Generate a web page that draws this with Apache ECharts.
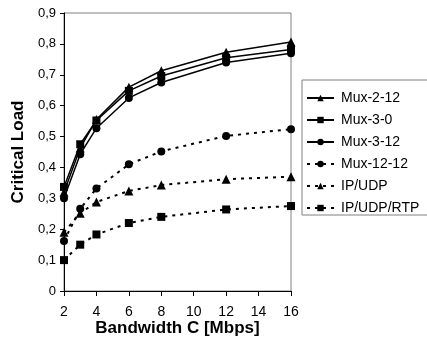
<!DOCTYPE html>
<html>
<head>
<meta charset="utf-8">
<script src="https://cdn.jsdelivr.net/npm/echarts@6/dist/echarts.min.js"></script>
<style>
  html, body { margin: 0; padding: 0; background: #fff; }
  #chart { width: 427px; height: 339px; }
</style>
</head>
<body>
<div id="chart"></div>
<script>
const bandwidth = [2, 3, 4, 6, 8, 12, 16];

const mux2_12 = [0.32, 0.463, 0.555, 0.66, 0.713, 0.773, 0.806];
const mux3_0 = [0.337, 0.475, 0.552, 0.648, 0.696, 0.755, 0.782];
const mux3_12 = [0.30, 0.443, 0.527, 0.625, 0.675, 0.74, 0.77];
const mux12_12 = [0.162, 0.266, 0.332, 0.41, 0.452, 0.502, 0.524];
const ipUdp = [0.19, 0.252, 0.288, 0.324, 0.343, 0.362, 0.37];
const ipUdpRtp = [0.10, 0.15, 0.183, 0.22, 0.24, 0.264, 0.275];

const seriesDefs = [
  { name: "Mux-2-12", data: mux2_12, symbol: "triangle", dotted: false },
  { name: "Mux-3-0", data: mux3_0, symbol: "rect", dotted: false },
  { name: "Mux-3-12", data: mux3_12, symbol: "circle", dotted: false },
  { name: "Mux-12-12", data: mux12_12, symbol: "circle", dotted: true },
  { name: "IP/UDP", data: ipUdp, symbol: "triangle", dotted: true },
  { name: "IP/UDP/RTP", data: ipUdpRtp, symbol: "rect", dotted: true }
];

const chart = echarts.init(document.getElementById("chart"));
const font = "Arial, 'Liberation Sans', sans-serif";

chart.setOption({
  animation: false,
  grid: {
    left: 64, right: 136, top: 13, bottom: 48,
    outerBoundsMode: "none",
    containLabel: false,
    show: true, borderColor: "#808080", borderWidth: 1
  },
  legend: {
    orient: "vertical",
    left: 302, top: 80,
    padding: [11, 30, 0, 4],
    itemGap: 8,
    itemWidth: 27,
    itemHeight: 8,
    borderColor: "#808080",
    borderWidth: 1,
    borderRadius: 0,
    textStyle: { fontFamily: font, fontSize: 14, color: "#000", padding: [0, 0, 0, 2] },
    data: seriesDefs.map((s) => s.name)
  },
  xAxis: {
    type: "value",
    min: 2, max: 16, interval: 2,
    name: "Bandwidth C [Mbps]",
    nameLocation: "middle",
    nameGap: 29,
    nameMoveOverlap: false,
    nameTextStyle: { fontFamily: font, fontSize: 17, fontWeight: "bold", color: "#000" },
    axisLine: { lineStyle: { color: "#000", width: 1 } },
    axisTick: { show: true, length: 5, lineStyle: { color: "#000" } },
    axisLabel: { fontFamily: font, fontSize: 14, color: "#000", margin: 14 },
    splitLine: { show: false }
  },
  yAxis: {
    type: "value",
    min: 0, max: 0.9, interval: 0.1,
    name: "Critical Load",
    nameLocation: "middle",
    nameGap: 37,
    nameMoveOverlap: false,
    nameTextStyle: { fontFamily: font, fontSize: 17, fontWeight: "bold", color: "#000" },
    axisLine: { show: true, lineStyle: { color: "#000", width: 1 } },
    axisTick: { show: true, length: 4, lineStyle: { color: "#000" } },
    axisLabel: {
      fontFamily: font, fontSize: 13, color: "#000", margin: 8,
      formatter: (v) => (Math.round(v * 10) / 10).toString().replace(".", ",")
    },
    splitLine: { show: false }
  },
  series: seriesDefs.map((s) => ({
    name: s.name,
    type: "line",
    data: bandwidth.map((x, i) => [x, s.data[i]]),
    symbol: s.symbol,
    symbolSize: s.symbol === "triangle" ? 9 : 8,
    showAllSymbol: true,
    itemStyle: { color: "#000" },
    lineStyle: s.dotted
      ? { color: "#000", width: 2, type: [3, 5] }
      : { color: "#000", width: 1.5, type: "solid" }
  }))
});
</script>
</body>
</html>
